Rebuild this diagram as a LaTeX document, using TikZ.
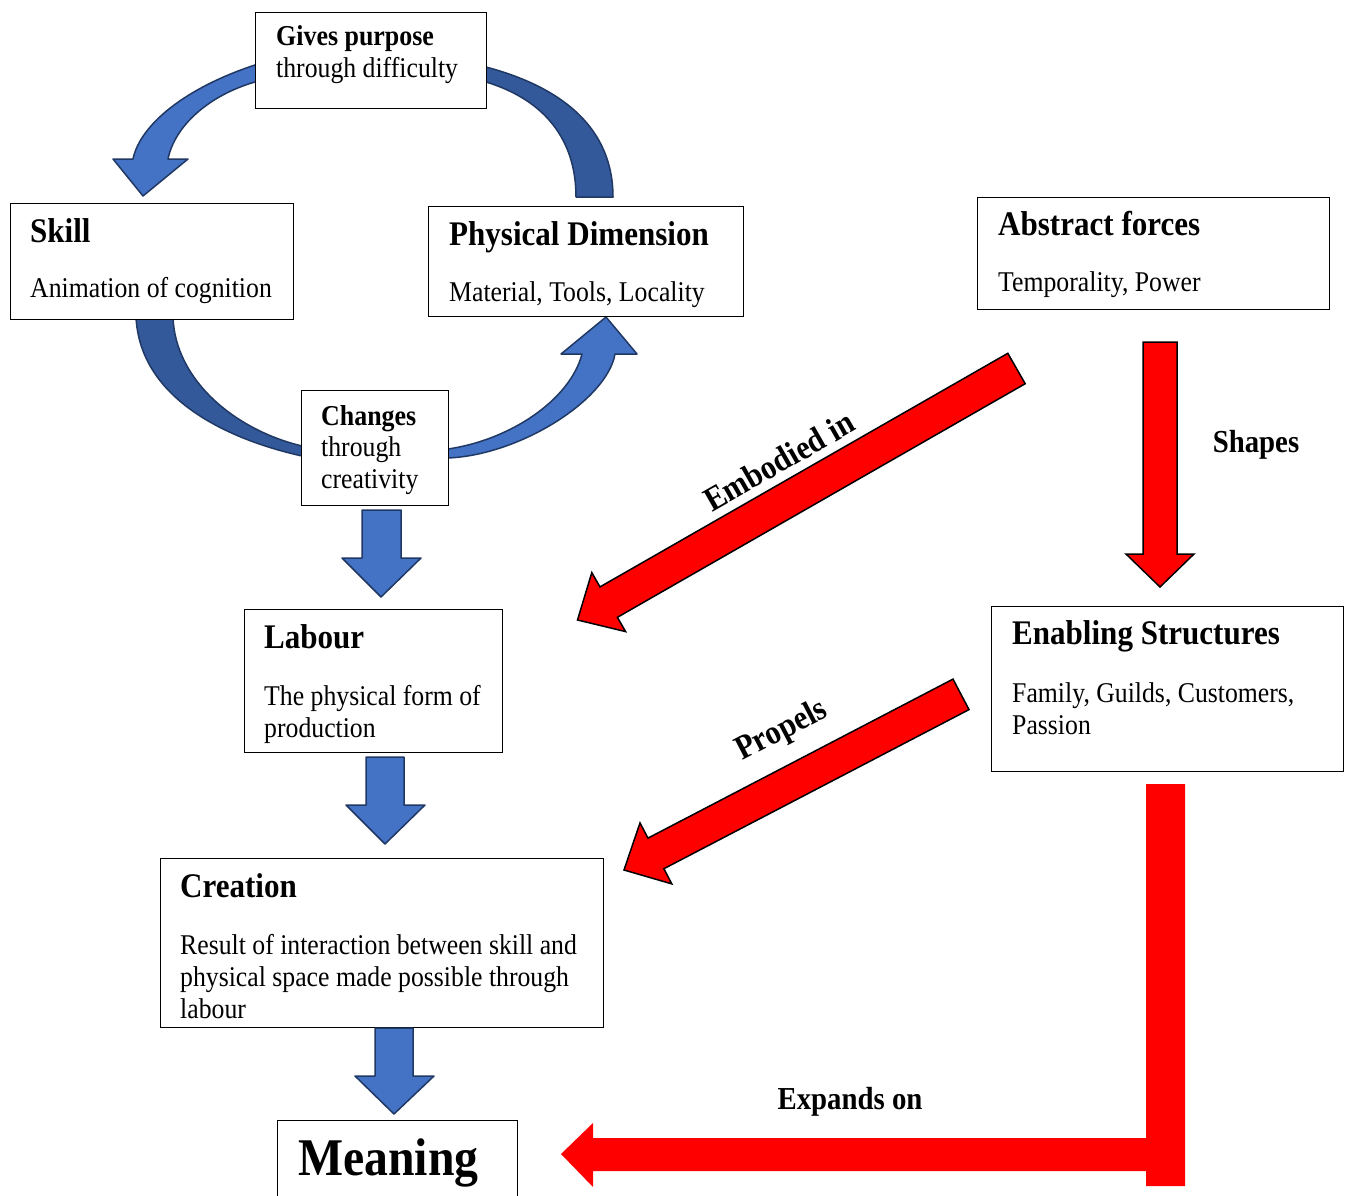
\documentclass[tikz,border=0pt]{standalone}
\usepackage{fontspec}
\setmainfont{Liberation Serif}[FakeStretch=0.9]
\definecolor{bluelight}{HTML}{4472C4}
\definecolor{bluedark}{HTML}{34599A}
\definecolor{blueedge}{HTML}{203864}
\definecolor{redfill}{HTML}{FF0000}
\tikzset{
  box/.style={draw=black, line width=1.2pt, fill=white, rectangle, inner sep=0pt, anchor=north west},
  txt/.style={anchor=base west, inner sep=0pt, font=\fontsize{28.6}{32}\selectfont},
  ttl/.style={anchor=base west, inner sep=0pt, font=\fontsize{34.5}{38}\selectfont\bfseries},
  btxt/.style={anchor=base west, inner sep=0pt, font=\fontsize{28.8}{32}\selectfont\bfseries},
  lbl/.style={inner sep=0pt, font=\fontsize{32}{36}\selectfont\bfseries},
  rlbl/.style={inner sep=0pt, font=\fontsize{34}{38}\selectfont\bfseries},
  lightarrow/.style={fill=bluelight, draw=blueedge, line width=1.5pt, line join=round},
  darkarrow/.style={fill=bluedark, draw=blueedge, line width=1.5pt, line join=round},
  redarrow/.style={fill=redfill, draw=black, line width=1.5pt, line join=miter},
}
\begin{document}
\begin{tikzpicture}[x=1pt, y=-1pt]
\useasboundingbox (0,0) rectangle (1349,1196);
\clip (0,0) rectangle (1349,1196);
\fill[white] (0,0) rectangle (1349,1196);

% curved arrows of the cycle (drawn under the boxes)
\draw[lightarrow] (280,58) -- (255,65) .. controls (185,88) and (140,125) .. (133,159)
  -- (113,159) -- (143,196) -- (188,159) -- (168,159)
  .. controls (175,125) and (210,95) .. (255,82) -- (280,78) -- cycle;
\draw[darkarrow] (470,62) -- (486,67) .. controls (565,88) and (613,130) .. (613,197)
  -- (576,197) .. controls (576,140) and (545,100) .. (486,82) -- (470,77) -- cycle;
\draw[darkarrow] (136,305) -- (136,317) .. controls (140,400) and (230,440) .. (302,456)
  -- (320,459) -- (320,448) -- (302,446) .. controls (235,430) and (175,380) .. (173,317)
  -- (173,305) -- cycle;
\draw[lightarrow] (430,450) -- (448,449) .. controls (510,440) and (570,400) .. (582,354)
  -- (561,354) -- (606,317) -- (637,354) -- (615,354)
  .. controls (607,400) and (520,455) .. (448,458) -- (430,459) -- cycle;

% boxes
\node[box, minimum width=231pt, minimum height=96pt]  (gives)    at (255,12)   {};
\node[box, minimum width=283pt, minimum height=116pt] (skill)    at (10,203)   {};
\node[box, minimum width=315pt, minimum height=110pt] (physical) at (428,206)  {};
\node[box, minimum width=352pt, minimum height=112pt] (abstract) at (977,197)  {};
\node[box, minimum width=147pt, minimum height=115pt] (changes)  at (301,390)  {};
\node[box, minimum width=258pt, minimum height=143pt] (labour)   at (244,609)  {};
\node[box, minimum width=352pt, minimum height=165pt] (enabling) at (991,606)  {};
\node[box, minimum width=443pt, minimum height=169pt] (creation) at (160,858)  {};
\node[box, minimum width=240pt, minimum height=90pt]  (meaning)  at (277,1120) {};

% box texts
\node[btxt] (gives-t1) at (276,46) {Gives purpose};
\node[txt]  (gives-t2) at (276,78) {through difficulty};

\node[ttl] (skill-t) at (30,242) {Skill};
\node[txt] (skill-b) at (30,297) {Animation of cognition};

\node[ttl] (phys-t) at (449,245) {Physical Dimension};
\node[txt] (phys-b) at (449,301) {Material, Tools, Locality};

\node[ttl] (abs-t) at (998,235) {Abstract forces};
\node[txt] (abs-b) at (998,291) {Temporality, Power};

\node[btxt] (chg-t1) at (321,425) {Changes};
\node[txt]  (chg-t2) at (321,456) {through};
\node[txt]  (chg-t3) at (321,488) {creativity};

\node[ttl] (lab-t)  at (264,648) {Labour};
\node[txt] (lab-b1) at (264,705) {The physical form of};
\node[txt] (lab-b2) at (264,737) {production};

\node[ttl] (ena-t)  at (1012,644) {Enabling Structures};
\node[txt] (ena-b1) at (1012,702) {Family, Guilds, Customers,};
\node[txt] (ena-b2) at (1012,734) {Passion};

\node[ttl] (cre-t)  at (180,897)  {Creation};
\node[txt] (cre-b1) at (180,954)  {Result of interaction between skill and};
\node[txt] (cre-b2) at (180,986)  {physical space made possible through};
\node[txt] (cre-b3) at (180,1018) {labour};

\node[anchor=base west, inner sep=0pt, font=\fontsize{53}{58}\selectfont\bfseries] (mean-t) at (298,1175) {Meaning};

% straight blue block arrows down the left column
\draw[lightarrow] (362,510) -- (401,510) -- (401,558) -- (421,558) -- (381,597)
  -- (342,558) -- (362,558) -- cycle;
\draw[lightarrow] (366,757) -- (404,757) -- (404,805) -- (425,805) -- (385,844)
  -- (346,805) -- (366,805) -- cycle;
\draw[lightarrow] (375,1028) -- (413,1028) -- (413,1076) -- (434,1076) -- (394,1114)
  -- (355,1076) -- (375,1076) -- cycle;

% red arrows from the abstract side
\draw[redarrow] (1007.8,353.3) -- (600.0,586.9) -- (591.8,572.6) -- (577.5,620)
  -- (625.6,631.6) -- (617.4,617.3) -- (1025.2,383.7) -- cycle;
\node[rlbl, rotate=29.8] (embodied) at (779,461) {Embodied in};

\draw[redarrow] (1143,342) -- (1177,342) -- (1177,554) -- (1194,554) -- (1160,587)
  -- (1126,554) -- (1143,554) -- cycle;
\node[lbl] (shapes) at (1256,445) {Shapes};

\draw[redarrow] (953.0,679.1) -- (648.0,838.1) -- (640.0,822.9) -- (624,870)
  -- (671.8,883.9) -- (663.9,868.7) -- (969.0,709.6) -- cycle;
\node[rlbl, rotate=27.5] (propels) at (782,731) {Propels};

\fill[redfill] (1146,784) -- (1185,784) -- (1185,1186) -- (1146,1186) -- (1146,1171)
  -- (593,1171) -- (593,1187) -- (561,1154) -- (593,1123) -- (593,1138) -- (1146,1138) -- cycle;
\node[lbl] (expands) at (850,1102) {Expands on};
\end{tikzpicture}
\end{document}
